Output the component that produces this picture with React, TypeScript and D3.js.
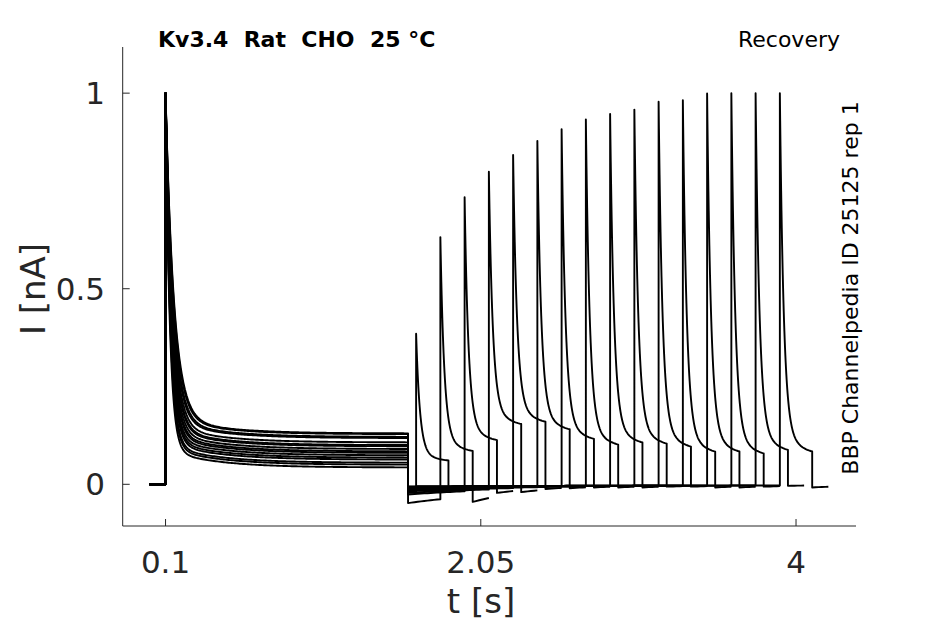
import * as d3 from 'd3';

const WIDTH = 945;
const HEIGHT = 624;

// axis ticks
const X_TICKS = [0.1, 2.05, 4];
const Y_TICKS = [0, 0.5, 1];

// protocol timing [s]
const PULSE1_START = 0.1;
const PULSE1_END = 1.6;
const PULSE2_LEN = 0.2;
const TAIL_LEN = 0.1;

// onset of the second (test) pulse for each sweep
const pulse2Start = [1.65, 1.8, 1.95, 2.1, 2.25, 2.4, 2.55, 2.7, 2.85, 3.0, 3.15, 3.3, 3.45, 3.6, 3.75, 3.9];

// first pulse: normalised peak, fast decay tau, level reached at its end
const peak1 = [1, 1, 1, 1, 1, 1, 1, 1, 1, 1, 1, 1, 1, 1, 1, 1];
const tau1 = [0.052, 0.05, 0.047, 0.045, 0.043, 0.041, 0.04, 0.038, 0.036, 0.035, 0.033, 0.032, 0.031, 0.029, 0.028, 0.026];
const level1 = [0.13, 0.128, 0.121, 0.118, 0.107, 0.1, 0.097, 0.09, 0.084, 0.08, 0.074, 0.068, 0.063, 0.055, 0.05, 0.043];

// current between the two pulses, just after the step
const interLevel = [-0.02, -0.048, -0.026, -0.022, -0.018, -0.015, -0.012, -0.012, -0.01, -0.01, -0.008, -0.008, -0.008, -0.006, -0.006, -0.006];

// second pulse: recovered peak and level at its end
const peak2 = [0.385, 0.632, 0.734, 0.799, 0.842, 0.878, 0.908, 0.933, 0.947, 0.958, 0.978, 0.982, 0.999, 1.0, 1.0, 1.0];
const level2 = [0.054, 0.074, 0.1, 0.14, 0.145, 0.125, 0.1, 0.085, 0.09, 0.087, 0.079, 0.066, 0.066, 0.061, 0.07, 0.066];

// current after the second pulse
const tailLevel = [-0.015, -0.045, -0.022, -0.02, -0.012, -0.01, -0.008, -0.008, -0.008, -0.006, -0.006, -0.008, -0.008, -0.006, -0.004, -0.008];

const steps = (dur: number) => [...d3.range(0, Math.min(0.1, dur), 0.002), ...d3.range(0.1, dur, 0.01), dur];

// sweep built from the levels above with simple exponential kinetics
const buildSweep = (i: number): [number, number][] => {
  const pts: [number, number][] = [
    [0, 0],
    [PULSE1_START, 0],
  ];
  const slow1 = 0.045;
  steps(PULSE1_END - PULSE1_START).forEach((dt) => {
    const v = level1[i] + slow1 * Math.exp(-dt / 0.3) + (peak1[i] - level1[i] - slow1) * Math.exp(-dt / tau1[i]);
    pts.push([PULSE1_START + dt, v]);
  });
  const t2 = pulse2Start[i];
  const inter = (t: number) => -0.003 + (interLevel[i] + 0.003) * Math.exp(-(t - PULSE1_END) / 0.8);
  d3.range(PULSE1_END, t2, 0.02).concat([t2]).forEach((t) => pts.push([t, inter(t)]));
  const slow2 = 0.067 * peak2[i];
  steps(PULSE2_LEN).forEach((dt) => {
    const v = level2[i] + slow2 * Math.exp(-dt / 0.15) + (peak2[i] - level2[i] - slow2) * Math.exp(-dt / 0.024);
    pts.push([t2 + dt, v]);
  });
  const t3 = t2 + PULSE2_LEN;
  d3.range(0, TAIL_LEN, 0.02).concat([TAIL_LEN]).forEach((dt) => {
    pts.push([t3 + dt, tailLevel[i] * Math.exp(-dt / 0.4)]);
  });
  return pts;
};

const AXIS_COLOR = '#262626';
const FONT = '"DejaVu Sans", sans-serif';

const App = () => {
  const xScale = d3.scaleLinear().domain([-0.165, 4.371]).range([122.7, 856]);
  const yScale = d3.scaleLinear().domain([-0.1066, 1.118]).range([526, 47]);

  const line = d3
    .line<[number, number]>()
    .x((d) => xScale(d[0]))
    .y((d) => yScale(d[1]));

  const sweeps = pulse2Start.map((_, i) => (
    <path key={i} d={line(buildSweep(i)) ?? ''} fill="none" stroke="#000" strokeWidth={1.9} strokeLinejoin="round" />
  ));

  const [x0, x1] = xScale.range();
  const [yb, yt] = yScale.range();

  return (
    <svg width={WIDTH} height={HEIGHT} style={{ position: 'absolute', left: 0, top: 0, background: '#fff' }}>
      {sweeps}

      {/* axes */}
      <line x1={x0} x2={x1} y1={yb} y2={yb} stroke={AXIS_COLOR} strokeWidth={1} />
      <line x1={x0} x2={x0} y1={yb} y2={yt} stroke={AXIS_COLOR} strokeWidth={1} />
      {X_TICKS.map((t) => (
        <g key={t}>
          <line x1={xScale(t)} x2={xScale(t)} y1={yb} y2={yb - 7} stroke={AXIS_COLOR} />
          <text x={xScale(t)} y={573} textAnchor="middle" fontSize={31} fontFamily={FONT} fill={AXIS_COLOR}>
            {t}
          </text>
        </g>
      ))}
      {Y_TICKS.map((v) => (
        <g key={v}>
          <line x1={x0} x2={x0 + 7} y1={yScale(v)} y2={yScale(v)} stroke={AXIS_COLOR} />
          <text x={105} y={yScale(v)} textAnchor="end" dominantBaseline="central" fontSize={31} fontFamily={FONT} fill={AXIS_COLOR}>
            {v}
          </text>
        </g>
      ))}

      <text x={481} y={613} textAnchor="middle" fontSize={34} fontFamily={FONT} fill={AXIS_COLOR}>
        t [s]
      </text>
      <text transform="translate(45,289) rotate(-90)" textAnchor="middle" fontSize={34} fontFamily={FONT} fill={AXIS_COLOR}>
        I [nA]
      </text>

      <text x={158} y={47} fontSize={22} fontWeight="bold" fontFamily={FONT} fill="#000" style={{ whiteSpace: 'pre' }}>
        {'Kv3.4  Rat  CHO  25 °C'}
      </text>
      <text x={840} y={47} textAnchor="end" fontSize={22} fontFamily={FONT} fill="#000">
        Recovery
      </text>
      <text transform="translate(858,288) rotate(-90)" textAnchor="middle" fontSize={22} fontFamily={FONT} fill="#000">
        BBP Channelpedia ID 25125 rep 1
      </text>
    </svg>
  );
};

export default App;
